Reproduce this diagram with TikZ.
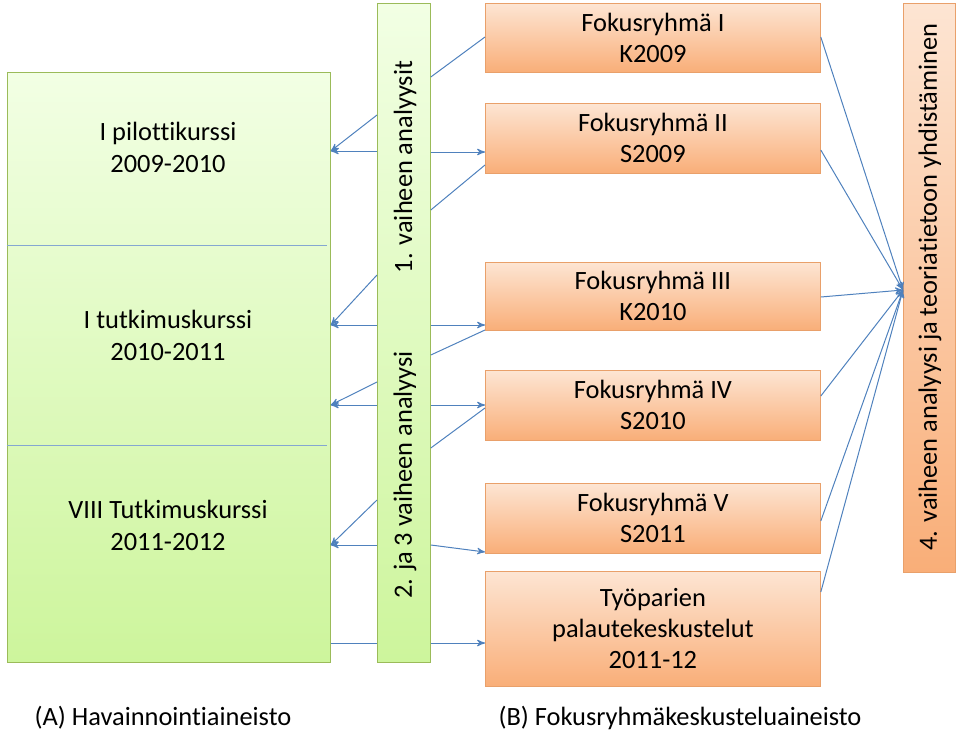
\documentclass[tikz,border=0pt]{standalone}
\usepackage{fontspec}
\setmainfont[Ligatures=NoCommon]{Carlito}
\usetikzlibrary{arrows,positioning}
\definecolor{gtop}{HTML}{F2FFE4}
\definecolor{gbot}{HTML}{CDF59C}
\definecolor{gline}{HTML}{9BBB59}
\definecolor{otop}{HTML}{FDE5D3}
\definecolor{obot}{HTML}{F9AE78}
\definecolor{oline}{HTML}{E9A06A}
\definecolor{arr}{HTML}{4F81BD}
\tikzset{
  greenbox/.style={draw=gline,top color=gtop,bottom color=gbot,inner sep=0pt},
  orangebox/.style={draw=oline,top color=otop,bottom color=obot,inner sep=0pt,
    minimum width=167.5pt,align=center,font=\fontsize{13.2}{15.5}\selectfont},
  lbl/.style={align=center,font=\fontsize{13.2}{16}\selectfont},
  vtxt/.style={rotate=90,font=\fontsize{13.2}{15}\selectfont},
  ln/.style={draw=arr,line width=0.5pt},
  ar/.style={ln,->,>=stealth'}
}
\begin{document}
\begin{tikzpicture}[x=0.5pt,y=-0.5pt]
\useasboundingbox (0,0) rectangle (960,735);
% left column
\node[greenbox,minimum width=161.5pt,minimum height=295pt,anchor=north west] (obs) at (7,72) {};
\draw[draw=arr!70] (7,245) -- (327,245);
\draw[draw=arr!70] (7,445) -- (327,445);
\node[lbl] (k1) at (168,147) {I pilottikurssi\\2009-2010};
\node[lbl] (k2) at (168,335) {I tutkimuskurssi\\2010-2011};
\node[lbl] (k3) at (168,525) {VIII Tutkimuskurssi\\2011-2012};
% middle bar
\node[greenbox,minimum width=26.5pt,minimum height=329.5pt,anchor=north west] (bar) at (377,3) {};
\node[vtxt] (v1) at (405,167) {1. vaiheen analyysit};
\node[vtxt] (v23) at (405,475) {2. ja 3 vaiheen analyysi};
% focus groups
\node[orangebox,minimum height=34.5pt,anchor=north west] (f1) at (485,3) {Fokusryhmä I\\K2009};
\node[orangebox,minimum height=35pt,anchor=north west] (f2) at (485,103) {Fokusryhmä II\\S2009};
\node[orangebox,minimum height=34pt,anchor=north west] (f3) at (485,262) {Fokusryhmä III\\K2010};
\node[orangebox,minimum height=35pt,anchor=north west] (f4) at (485,370) {Fokusryhmä IV\\S2010};
\node[orangebox,minimum height=35pt,anchor=north west] (f5) at (485,483) {Fokusryhmä V\\S2011};
\node[orangebox,minimum height=57.5pt,anchor=north west] (f6) at (485,571) {Työparien\\palautekeskustelut\\2011-12};
% right bar
\node[orangebox,minimum width=26pt,minimum height=284.5pt,anchor=north west] (syn) at (903,3) {};
\node[vtxt] (v4) at (930,287) {4. vaiheen analyysi ja teoriatietoon yhdistäminen};
% connectors
\coordinate (hub) at (903,290);
\foreach \a/\b in {115/151,275/325,382/405,500/545}{
  \draw[ar] (bar.west |- 0,\a) -- (obs.east |- 0,\b);
  \draw[ar] (bar.west |- 0,\b) -- (obs.east |- 0,\b);
}
\draw[ln] (obs.east |- 0,643) -- (bar.west |- 0,643);
\draw[ln] (bar.east |- 0,77) -- (f1.west |- 0,37);
\draw[ar] (bar.east |- 0,152) -- (f2.west |- 0,152);
\draw[ln] (bar.east |- 0,210) -- (f2.west |- 0,165);
\draw[ar] (bar.east |- 0,325) -- (f3.west |- 0,325);
\draw[ln] (bar.east |- 0,355) -- (f3.west |- 0,330);
\draw[ar] (bar.east |- 0,405) -- (f4.west |- 0,405);
\draw[ln] (bar.east |- 0,448) -- (f4.west |- 0,408);
\draw[ar] (bar.east |- 0,545) -- (f5.west |- 0,552);
\draw[ar] (bar.east |- 0,643) -- (f6.west |- 0,643);
\foreach \n/\y in {f1/37,f2/150,f3/297,f4/396,f5/521,f6/592}
  \draw[ar] (\n.east |- 0,\y) -- (hub);
% captions
\node[font=\fontsize{13.2}{15}\selectfont] (ca) at (163,718) {(A) Havainnointiaineisto};
\node[font=\fontsize{13.2}{15}\selectfont] (cb) at (680,718) {(B) Fokusryhmäkeskusteluaineisto};
\end{tikzpicture}
\end{document}
